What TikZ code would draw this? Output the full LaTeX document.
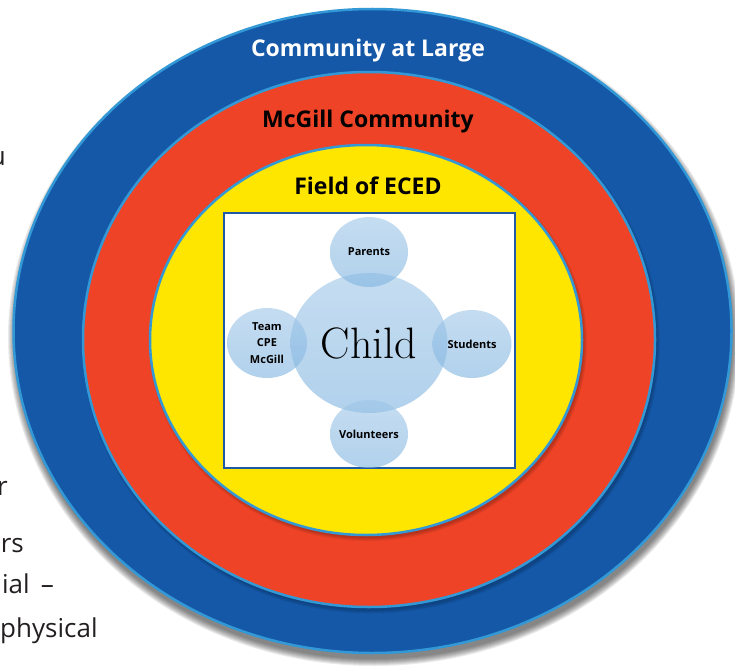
\documentclass[tikz,border=0pt]{standalone}
\usepackage{fontspec}
\setsansfont{Open Sans}
\usetikzlibrary{shapes.geometric}
\definecolor{ringblue}{HTML}{1558A8}
\definecolor{ringred}{HTML}{EE4326}
\definecolor{ringyellow}{HTML}{FFE600}
\definecolor{rimblue}{HTML}{3399D6}
\definecolor{bubblecol}{HTML}{7EB3E0}
\definecolor{boxblue}{HTML}{1F5AA6}
\definecolor{bodytext}{HTML}{231F20}
\tikzset{
	ring/.style={draw=rimblue, line width=2.5pt},
	bubble/.style={ellipse, inner sep=0pt, top color=bubblecol!75, bottom color=bubblecol,
		fill opacity=0.6},
	bubbletext/.style={inner sep=0pt, text opacity=1, align=center,
		font=\sffamily\bfseries\fontsize{11}{16.5}\selectfont},
	ringtitle/.style={anchor=base, inner sep=0pt, font=\sffamily\bfseries\fontsize{23}{28}\selectfont},
	stray/.style={anchor=base east, inner sep=0pt, text=bodytext, font=\sffamily\fontsize{26}{30}\selectfont},
}

\begin{document}
\begin{tikzpicture}[x=1pt, y=-1pt]
		\useasboundingbox (0,0) rectangle (735,666);
		%Testo tagliato
		\node [stray] (t1) at (6,165) {u};
		\node [stray] (t2) at (8,495) {r};
		\node [stray] (t3) at (24,552) {ers};
		\node [stray] (t4) at (54,593) {ial \,--};
		\node [stray, anchor=base west] (t5) at (0,637) {physical};
		%Ombre
		\foreach \i in {0,...,7}
			\fill [black, opacity=0.08] (374,337) ellipse ({359+\i} and {322+\i});
		%Anelli
		\fill [ringblue] (372.5,331) ellipse (359 and 322);
		\draw [ring] (372.5,331) ellipse (359 and 322);
		\foreach \i in {0,...,3}
			\fill [black, opacity=0.06] (371,343) ellipse ({286+\i} and {267.5+\i});
		\fill [ringred] (369,339.5) ellipse (286 and 267.5);
		\draw [ring] (369,339.5) ellipse (286 and 267.5);
		\foreach \i in {0,...,3}
			\fill [black, opacity=0.06] (368,343) ellipse ({216+\i} and {195+\i});
		\fill [ringyellow] (366,340) ellipse (216 and 195);
		\draw [ring] (366,340) ellipse (216 and 195);
		%Titoli
		\node [ringtitle, text=white] (large) at (368,57) {Community at Large};
		\node [ringtitle] (mcgill) at (368,128) {McGill Community};
		\node [ringtitle] (eced) at (368,194) {Field of ECED};
		%Riquadro
		\draw [boxblue, fill=white, line width=2.2pt] (224,213) rectangle (515,468);
		%Bolle
		\node [bubble, minimum width=157, minimum height=140,
			label={[bubbletext, font=\rmfamily\fontsize{44}{44}\selectfont]center:Child}] (child) at (369,343) {};
		\node [bubble, minimum width=78, minimum height=70,
			label={[bubbletext]center:Parents}] (parents) at (369,252) {};
		\node [bubble, minimum width=80, minimum height=70,
			label={[bubbletext]center:Team\\CPE\\McGill}] (team) at (267,343) {};
		\node [bubble, minimum width=79, minimum height=68,
			label={[bubbletext]center:Students}] (students) at (472,344) {};
		\node [bubble, minimum width=78, minimum height=68,
			label={[bubbletext]center:Volunteers}] (volunteers) at (369,434) {};
	\end{tikzpicture}
\end{document}
